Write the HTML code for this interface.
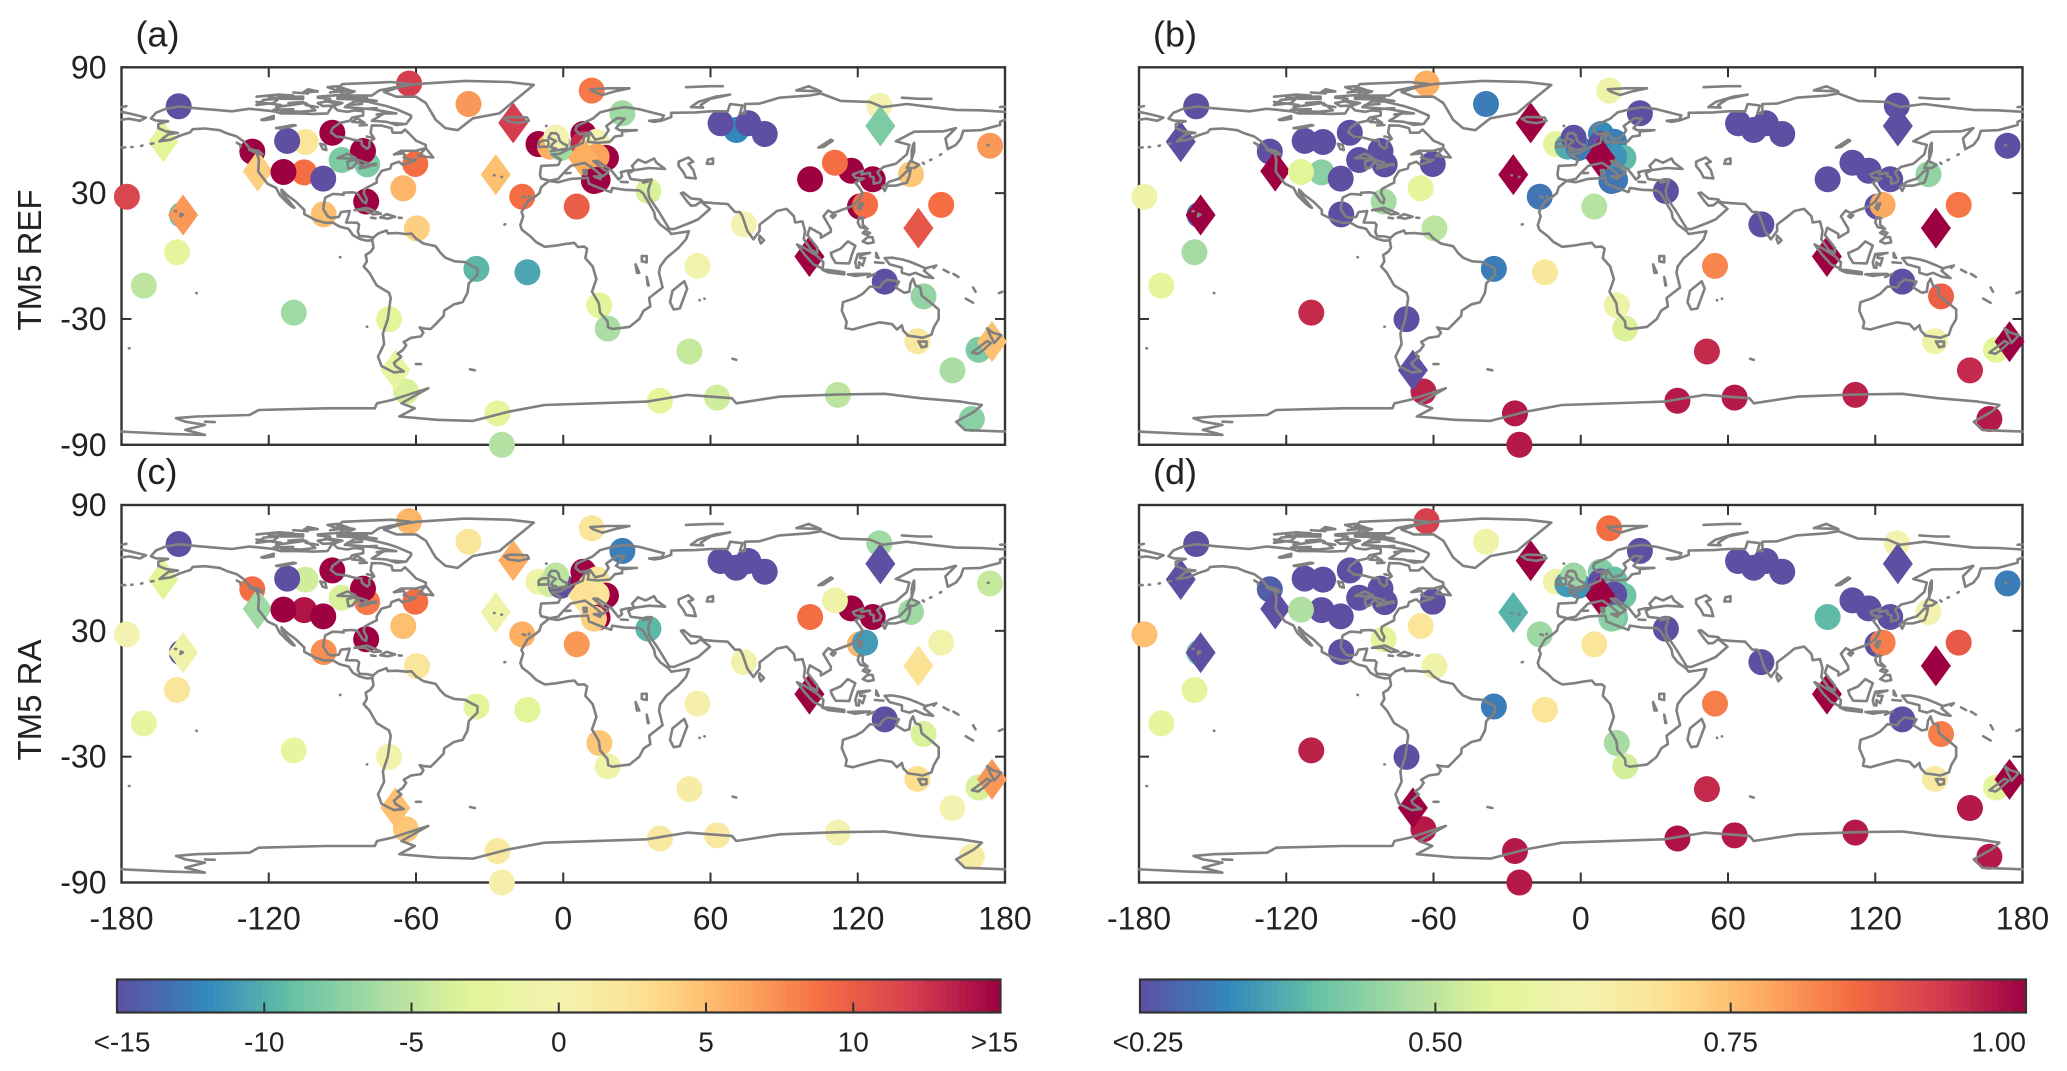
<!DOCTYPE html>
<html lang="en">
<head>
<meta charset="utf-8">
<title>TM5 station maps</title>
<style>
html,body{margin:0;padding:0;background:#fff;width:2067px;height:1071px;overflow:hidden}
svg{display:block}
text{font-family:"Liberation Sans",Arial,sans-serif;fill:#222}
</style>
</head>
<body>
<svg id="chart" xmlns="http://www.w3.org/2000/svg" width="2067" height="1071" viewBox="0 0 2067 1071"></svg>
<script>
// ---------- Data ----------
const xTickLabels = [-180, -120, -60, 0, 60, 120, 180];
const yTickLabels = [90, 30, -30, -90];
const biasTickLabels = ["<-15", "-10", "-5", "0", "5", "10", ">15"];
const biasTickValues = [-15, -10, -5, 0, 5, 10, 15];
const corrTickLabels = ["<0.25", "0.50", "0.75", "1.00"];
const corrTickValues = [0.25, 0.5, 0.75, 1];

const stationLon = [-62.8,-156.7,-38.6,-163,-20.4,11.6,24.1,70.5,64.1,75.4,82.1,-105,-112.5,-94.1,-126.7,-79.9,-90.3,-81.6,-60.3,-124.5,-105.6,-114,-97.8,-65.2,-80.3,-97.6,-59.6,-177.8,-155.4,-154.9,-157.4,-170.9,-27.5,-16.7,5.5,-10.1,-5.4,-0.9,-2.9,8.2,8.2,13.6,17.4,13.6,8,14,12.5,34.7,73.6,-35.4,-14.6,54.7,-109.8,-71,14.7,18.1,51.4,100.6,117.3,126.1,110.7,141.7,128.8,129.2,173.9,120.9,123,154,144.7,100.3,131,146.8,144.3,169.2,174.7,158.6,-64.1,-68.4,-26.8,-25,39.4,62.7,111.9,166.5];
const stationLat = [82.3,71.4,72.5,54.5,63.5,78.9,68.1,60.1,63.3,63.3,58.2,54.4,54.9,58.8,49.8,43.7,45.8,50.1,43.9,40.5,39.9,40.1,36.9,32.3,26,19.9,13.2,28.3,19.6,19.6,1.8,-14.1,38.8,28.3,23.6,53.4,52.2,51.5,56.4,58.2,53.5,54.5,46.8,47.4,46.8,36.3,35.8,31,15.1,-6.1,-7.7,-4.7,-27,-30.1,-23.5,-34.6,-45.5,36.6,40.7,36.6,44.5,39,71.7,62,52.6,23.6,24.4,24.4,13.3,-0.2,-12.2,-19.2,-40.6,-44.7,-40.8,-54.5,-64.6,-54.4,-75,-90,-69,-67.5,-66.2,-77.7];
const stationIsDiamond = [0,0,0,1,1,0,0,0,0,0,0,0,0,0,0,0,0,0,0,1,0,0,0,0,0,0,0,0,0,1,0,0,1,0,0,0,0,0,0,0,0,0,0,0,1,0,0,0,0,0,0,0,0,0,0,0,0,0,0,0,0,0,0,1,0,0,0,0,1,1,0,0,0,0,1,0,0,1,0,0,0,0,0,0];

const panelAValues = [12,-15,7,-3,12,8.5,-6.5,-12,-15,-15,-15,2,-15,15,15,-8,-8,15,9,4,9,15,-15,5.5,15,5,4,11.5,-9,7,-2.5,-5,5,9,10,15,6,-6.5,0,15,13,0,15,6.5,6,15,15,-3.5,0,-9.5,-10.5,-0.5,-6.5,-3,-3,-6,-4.5,15,15,15,9,4.5,0,-8,7,15,9,9,10.5,15,-15,-7,1.5,-8,5,-6,-3.5,-2,-2.5,-5.5,-2.5,-4,-5,-7.5];
const panelBValues = [0.775,0.25,0.31,0.25,1,0.6,0.25,0.25,0.25,0.25,0.25,0.25,0.25,0.25,0.25,0.25,0.25,0.25,0.25,1,0.44,0.55,0.25,0.56,0.47,0.25,0.5,0.6,0.28,1,0.47,0.56,1,0.3,0.49,0.57,0.37,0.31,0.25,0.33,0.25,0.31,0.39,0.34,1,0.31,0.3,0.25,0.25,0.31,0.67,0.82,0.95,0.25,0.6,0.54,0.95,0.25,0.25,0.25,0.25,0.45,0.25,0.25,0.25,0.25,0.78,0.84,1,1,0.25,0.87,0.6,0.55,1,0.95,0.96,0.25,0.97,0.97,0.97,0.97,0.96,0.97];
const panelCValues = [5.5,-15,2,-3,6,2,-12.5,-15,-15,-15,-15,-4,-15,15,9,8.5,-3.5,15,9,-6.5,14,15,15,5,15,7.5,2,0,-15,-1,2,-2,-1,6,7,-1,-4,-15,-5,15,15,2,15,2,2.5,15,4,-9.5,-0.5,-3,-3,0.5,-2,-0.5,4.5,-1,1,9,15,15,-1,-6.5,-6.5,-15,-4.5,5.5,-11,-0.5,2.5,15,-15,-3.5,3,-3.5,7,0,4.5,5,1.5,0.5,1.5,1.5,0,1];
const panelDValues = [0.92,0.25,0.6,0.25,1,0.85,0.25,0.25,0.25,0.25,0.25,0.25,0.25,0.25,0.27,0.25,0.25,0.25,0.25,0.25,0.25,0.48,0.25,0.68,0.56,0.25,0.6,0.75,0.42,0.25,0.57,0.56,0.38,0.46,0.68,0.6,0.35,0.34,0.46,0.43,0.25,0.4,0.41,0.25,1,0.42,0.44,0.25,0.25,0.31,0.68,0.83,0.96,0.25,0.47,0.53,0.95,0.39,0.25,0.25,0.25,0.62,0.62,0.25,0.31,0.25,0.83,0.88,1,1,0.25,0.83,0.66,0.56,1,0.97,0.97,1,0.97,0.97,0.98,0.97,0.97,0.97];

// Spectral colormap anchors
const spectralStops = ["#5e4fa2","#3288bd","#66c2a5","#abdda4","#e2f598","#f4f2b0","#fde08f","#fdae61","#f46d43","#d53e4f","#9e0142"];

// Coastlines as [lon,lat,lon,lat,...]
const coastlines = [
[-168,65.6,-166,68.3,-162,70.2,-156.5,71.3,-150,70.5,-141,69.6,-135,69,-128,70.2,-124,69.8,-118,69,-115,68,-108,68,-102,67.8,-96,68,-94,71.8,-92,69.5,-88,68.8,-85,69.5,-81.5,69,-81.5,67,-86,66,-87,64.5,-91,63.5,-94,61,-94.7,59,-92.5,57,-88,56.3,-85,55.3,-82.3,55,-82,52.9,-80,51.2,-79,52,-79,54.5,-77,56,-78.5,58.7,-78,62.3,-74,62.2,-70,61,-69.5,58.8,-66,58.8,-64.5,60.3,-62,57.5,-60,55,-56,53,-56,51.5,-60,50.2,-66,50.2,-69,48.4,-65,49,-64.5,48,-65,47,-62,45.8,-60,46,-61,45.2,-65.5,43.6,-67,45,-70,43.7,-70.5,41.7,-74,40.6,-75.5,38,-76,36.9,-76,35,-78,33.9,-81,32,-81.3,30,-80,27,-80.4,25.2,-81.7,26,-82.8,28,-84,30,-86,30.4,-89.5,30.2,-89.5,29.2,-91.5,29.5,-94,29.6,-97,27.8,-97.5,25,-97.8,22.5,-96,19,-94.5,18.2,-91.5,18.6,-90.5,21,-87,21.5,-87.7,18.5,-88.5,16,-84,15.9,-83.2,14.9,-83.7,11.5,-83,9.5,-79.8,9.3,-77.5,8.7],
[-77.8,7.5,-80,7.3,-83,8.2,-85.7,10,-87.5,13,-91,14,-94,16,-97,15.8,-101,17.2,-105.5,20,-105.5,22,-109,26,-112.5,29,-114.8,31.7,-114.7,30,-112,26.5,-109.5,23,-110.5,23.5,-112.5,25.5,-115.5,29,-117,32.5,-120.5,34.5,-122.5,37.5,-124.3,40.3,-124,46,-124.7,48.4,-122.5,48.5,-124,50,-127.5,51,-130,54.5,-133,57,-137,58.5,-140,60,-146,60.8,-151,60.5,-152,59,-156,57.5,-160,55.5,-164.5,54.7,-161,58,-157,58.7,-162,59.5,-165,61,-165,63,-161,64.3,-166,64.6,-168,65.6],
[-77.5,8.7,-75.5,10.7,-72,12.2,-71.5,10.8,-68,11,-64,10.5,-61.8,10.7,-60,8.3,-57,6,-52,4.7,-50,1.5,-48,-0.8,-44.3,-2.5,-40,-2.9,-37,-4.8,-35,-6,-35,-9,-38.5,-13,-39,-17.5,-41,-22,-44.5,-23,-48.5,-26,-48.7,-28.5,-52,-32.5,-54,-34.8,-57,-34.5,-58.5,-34,-57,-36.5,-58,-38.3,-62,-39,-65,-41,-64,-42.5,-65.5,-45,-67.5,-46.5,-66,-48,-69,-51,-68.3,-52.5,-65,-55,-69,-55.5,-74,-52.5,-75.5,-48,-73,-42,-73.5,-37,-71.5,-30,-70.3,-20,-71,-17.5,-76,-14,-79,-8,-81.3,-5,-80,-2.5,-80.5,0.5,-78.5,2,-77.3,4,-77.8,7.5,-77.5,8.7],
[-5.9,35.8,-2,35.2,3,36.8,10,37.3,10.5,34.5,15,32.3,19.5,30.5,20,32.5,25,31.6,31,31.3,32.5,30,34,27,35.5,24,37,21,37.5,18,39.5,15,43,12,44,10.5,51.2,11.8,50,8,47,4,42,-1,39.5,-5,39,-8,40.5,-15,35,-20,35.5,-24,32.8,-26,31,-30,27,-33.8,20,-34.8,18.3,-34,18,-31,15,-27,14.5,-22.5,11.7,-17,13.5,-11,12,-5,9,-1,9.7,3.5,8.5,4.5,6,4.3,4.5,6.3,1,5.8,-3,5,-7.5,4.4,-11,6.6,-13.5,9.5,-16.8,12.5,-17.5,14.7,-16.3,19,-17,21,-14.5,26,-11,28.8,-9.7,30,-9,32.8,-5.9,35.8],
[-9,37,-9.5,38.8,-9,43,-2,43.4,-1,46,-4.7,48.5,-1.5,48.7,1.5,50.5,4,52,8,54,8.5,57,10.5,57.7,10,54.5,14,54,19,54.5,21,57,24,57.5,24,59.4,30,60,23,60,21.5,61,25,65.5,22,65.8,17.5,62,18.5,60,16.5,56.5,13,55.5,11,59,7,58,5,60,5.5,62,12,65.5,15,68.5,20,70,25,71,31,70,41,67,40,65,35,64.5,37,64,40,64.6,44,66.2,44,68.3,54,68.5,60,69,67,69,68,72.5,73,71.8,72,68,74,68,74,72.5,80,72.7,88,75.5,100,76.5,105,77.5,113,74,125,73.5,130,71,140,72.5,150,71,160,69.7,170,69.5,180,68.8],
[-180,68.8,-175,67.5,-170,66,-172.5,64.5,-177,65.5,-180,65],
[180,65,178,64,178,62.5,170,60,163,59.7,162,56,160,53,156.7,51,155.7,56,160,61,155,59.5,143,59.3,135.5,54.7,141,53,140,48.5,135.5,44,130.5,42.5,128,40,129.5,37,129,35.2,126.5,34.5,126.5,37.5,125,38,125,39.7,121.5,39,122,40.7,118,39,119,37.3,122.5,37,119,35,121,32,122,30,120,26,117,23.5,113.5,22,110,20.5,108,21.7,106,19,109,13,109,11.5,105,8.7,105,10.5,100.5,13.5,99.5,10,103.5,4,103.5,1.5,101,3,98,8,98.5,12,97.5,16.5,94.5,16,94,19,91,22.5,87,21.5,85,19.5,80,15,80,12,77.5,8,75,12,73,19,72,21,70,21,67,24.8,61.5,25.2,57,25.7,56,27,52,27.5,49,30.3,48,30,50.5,26,52,24,54,24.2,56,26,59.8,22.5,55,17.5,52,16,45,12.8,43.2,13,39,21,35,28,34.6,31.5,36,36.5,32.5,36,27.5,36.7,26.5,39.5,29,41,35,42,41.5,41.5,38,44.5,37,46.5,33.5,44.5,30.5,46,28,43,29,41,26,40.7,23.5,40,24,38,22.5,36.5,19.5,41,14,45.3,12.3,45.3,16,41.7,18.4,40,16,38,12.5,41.5,8.8,44.4,3,43,0,39.5,-2,36.8,-5.5,36,-9,37],
[47,45,51,47,53,45,51,44,53,41,54,37,50,37.5,49,40,47,43,47,45],
[59,46,61,46.5,61,44,58.5,44,59,46],
[104,51.7,109,55.5,109.8,55,106,52,104,51.7],
[-92,46.7,-88,48.8,-84.7,47,-87,46.5,-92,46.7],
[-87.5,41.7,-88,45,-85,46,-84,46,-80,44.5,-82,43,-84,45,-86,42,-87.5,41.7],
[-83,41.7,-79,42.8,-79.5,43.5,-76.3,44,-76.3,43.3,-79,43.2,-80,42.6,-83,42.2],
[-99,53.5,-97,53,-96.5,50.5,-98,51,-99,53.5],
[-117,61,-110,62.5,-109,62.3,-115,60.8,-117,61],
[-123,65,-118,66.8,-118,65.5,-122,64.8,-123,65],
[32,0,34,0,34,-3,32,-2.5,32,0],
[29.5,-4,30,-8,31,-8,29.5,-4],
[34,-10,34.8,-14,34.5,-14,34,-10],
[-5,50,1.3,51.2,1.5,52.8,0,53.5,-1.5,55,-2,57.5,-3,58.6,-5,58.6,-6,56.5,-3,54.8,-4.5,53.3,-5,51.8,-3,51.3,-5,50],
[-6,52.2,-6,54,-6.2,55.2,-8.5,55,-10,54,-10,52,-6,52.2],
[-24,65.5,-22,64,-18,63.4,-14,64.5,-14.7,66,-18,66.2,-22,66.3,-24,65.5],
[-73,78.2,-66,80.8,-60,82,-40,83.5,-22,83,-12,81.6,-20,74,-24,70,-26,68,-36.8,65.7,-43,60,-48,61,-52,65,-54,69,-56,73,-60,76,-68,76,-73,78.2],
[12,78.5,16,76.8,21,78.5,27,80,18,80,11,79.5,12,78.5],
[52,71,55,73.5,62,76,68,77,60,75,56,72,57,70.8,52,71],
[142,46,143,50,143,54,142.5,53,142,50,142,46],
[130,33,131,31,132,33.5,135.5,33.6,140,35,141,38,141.5,41,140,40.5,137,37,133,35.5,130,33],
[140,42,141.5,45.4,145,43.5,143,42,140,42],
[120,23,121,25,122,25,121,22,120,23],
[109,19,110,20,111,19.5,110,18.2,109,19],
[120,16,120.5,18.5,122,18.3,122,15,124,13,121,13.8,120,16],
[122,7,124,9,126,9,126.5,6.5,124,6,122,7],
[122,11,123,12,125,11,124,10,122,11],
[109,1.5,111,2.5,113,3.5,116,7,119,5,117.7,1,116.5,-3.5,111,-3.3,109.5,-0.5,109,1.5],
[95.3,5.5,98,4,103.5,0,106,-3,105.7,-6,102,-4,98.5,0.5,95.3,5.5],
[105.5,-6.5,108.5,-6.7,114.5,-7.7,114.5,-8.7,108,-7.8,105.5,-6.5],
[119.5,-5.5,119,-3,120,1,125,1.5,121,0.3,121,-1,123,-1,122,-4.5,120.5,-3,120.5,-5.6,119.5,-5.5],
[116,-8.7,120,-8.5,125,-8.5,119,-9.5,116,-8.7],
[124,-10,127,-8.5],
[127.5,1.5,128.5,-1,127.5,-0.5,127.5,1.5],
[127,-3,130.5,-3.3],
[131,-1,134,-0.8,138,-1.6,141,-2.6,145,-4.5,147.8,-6,147,-7,150.7,-10.5,147,-9.8,143.5,-8,141,-9,138,-8,138,-5.5,133,-4,132,-2.5,131,-1],
[148,-5.7,152,-4.5,151,-5.7],
[155,-6.5,157,-7.8],
[159,-8.5,161,-10],
[114,-22,113.5,-26,115.5,-31.5,115,-34.3,118,-35,124,-33,129,-31.6,134,-32.5,136,-35,138,-33,138.5,-35.5,140.5,-38,144,-38.5,146.5,-39,150,-37.5,151,-34,153,-30,153,-25.5,149.5,-22,146,-18.8,145.5,-15,143.5,-14,142.5,-10.8,141.5,-13,141,-17,139,-17.5,135.5,-15,136.8,-12.2,132,-11.3,130,-13,129,-15,125,-14.5,122,-18,119,-20,114,-22],
[144.7,-40.7,148,-40.8,148,-43,146,-43.5,144.7,-40.7],
[172.7,-34.5,175,-36.5,178.5,-37.7,175.5,-41.5,174.8,-39.5,174,-38,172.7,-34.5],
[172.7,-40.5,174.2,-41.5,171,-45,169,-46.6,166.5,-46,170,-43,172.7,-40.5],
[49.3,-12,50.5,-15.5,47.5,-25,45,-25.5,43.5,-22,44.5,-16.5,49.3,-12],
[80,9.7,81.8,7.5,80.5,6,79.8,8,80,9.7],
[-85,21.9,-80,23,-74.3,20.2,-77.5,19.9,-81,22,-85,21.9],
[-74.5,18.4,-72,20,-68.5,18.7,-71.5,17.8,-74.5,18.4],
[-78.3,18.3,-76.5,18],
[-67,18.3,-65.8,18.2],
[-59,47.7,-56,51.5,-53,47,-59,47.7],
[-128,50.7,-124,48.5,-123.5,48.4,-125,50,-128,50.7],
[-133,54,-131.5,53,-131.5,52],
[-156,19,-155,19.7,-155.8,20.2,-156,19],
[-158.2,21.4,-157.7,21.4],
[8.5,39,9.5,39,9.5,41,8.2,41,8.5,39],
[12.5,38,15.5,38,15,36.7,12.5,38],
[23.5,35.4,26.3,35.2],
[32.5,35,34.5,35.5],
[1,39.5,3,39.6],
[55.5,-21,55.6,-21.1],
[57.5,-20.3,57.6,-20.4],
[-60,-51.5,-58,-51.5],
[-38,-54,-36,-54.5],
[69,-49,70.5,-49.5],
[164,-20.3,167,-22.3],
[167,-15,168,-17],
[177.5,-17.7,179,-17],
[-177,-44,-176.7,-44],
[-149.5,-17.6,-149.3,-17.7],
[-91,-0.5,-90.8,-0.6],
[-80,-33.7,-79.9,-33.7],
[-25,37.7,-25.2,37.8],
[-28,38.5,-28.2,38.5],
[-16.5,28.3,-16.2,28.4],
[-15.5,28,-15.4,27.9],
[-14,28.4,-13.8,28.6],
[-24,15,-23.6,15.2],
[-7,62,-6.8,62.1],
[-176,52,-175.5,52],
[-172,52.5,-171.5,52.7],
[-168,53.5,-167,53.7],
[-180,51.8,-178.5,51.8],
[173,52.9,173.3,52.9],
[147,44,146.5,44.5],
[150,46,149.5,45.8],
[154,48.5,153.5,48.2],
[-62,66,-64,63,-68,62.5,-72,64,-78,64.5,-73,68,-68,68,-78,70,-89,71,-85,73.8,-80,73.7,-72,71.5,-68,70,-62,67,-62,66],
[-117,71,-105,73,-101,69.5,-107,68.8,-115,69.3,-117,71],
[-125,72,-118,73,-116,75,-122,74.5,-125,72],
[-90,76.5,-78,76.5,-75,79,-62,82,-70,83,-90,82,-92,80,-85,78.5,-90,76.5],
[-92,75,-80,74.5,-80,75.7,-92,76,-92,75],
[-115,75,-106,75,-106,76,-116,76.3,-115,75],
[-96,80.5,-92,81,-87,79,-90,78,-96,80.5],
[-106,78,-100,78.5,-104,79.5,-106,78],
[-100,73,-95,74,-90,73,-93,71.8,-98,71.5,-100,73],
[-86,64,-81,63.5,-84,65.8,-86,64],
[-80,62.5,-83,62.3],
[-76,67.5,-73,68],
[-98,76,-100,75.5,-95,75],
[-125,76,-116,77,-110,76.5],
[-120,75.5,-112,75.3],
[-110,78,-104,77.5],
[-100,76,-94,76.5,-90,77],
[-105,72,-100,71],
[-97,74,-92,72.5],
[-88,72,-82,72.5],
[-84,70,-76,70.5],
[-82,75,-76,74],
[-112,73,-106,73.5],
[-125,73.5,-115,72],
[-95,78,-88,79],
[-118,69.8,-110,70],
[-65,63,-70,63.5],
[-80,57,-78,56.5],
[95,79,105,78.5,100,81,95,79],
[138,75.5,145,75,150,75],
[-180,71,-178,71.5],
[178,71,180,71.2],
[50,80.5,60,81,65,81],
[-180,-83.7,-160.5,-84.8,-146,-85.3,-154,-82.9,-146,-80.5,-154,-79,-157.8,-77.3,-149.6,-76.5,-127.8,-75.8,-124.1,-73.4,-96.9,-72.6,-76.8,-72.6,-75.9,-70.2,-69.6,-68.6,-55,-63,-65.9,-70.2,-60.5,-72.6,-66.8,-76.5,-51.4,-78.1,-36.8,-78.6,-22.3,-74.2,-7.7,-71,34,-69.4,50.5,-66.2,68.7,-67.8,70.5,-70.2,88.3,-67,112,-66,131,-65.7,145.5,-67.8,161.9,-69.4,170.6,-71,167.4,-74.2,160.1,-79,163.7,-83,180,-83.7],
[-146,-79,-142,-79.2]
];

// ---------- Helpers ----------
const NS = "http://www.w3.org/2000/svg";
const svg = document.getElementById("chart");
const AXIS_COLOR = "#333333";

function el(tag, attrs, parent, text) {
  const node = document.createElementNS(NS, tag);
  for (const k in attrs) node.setAttribute(k, attrs[k]);
  if (text !== undefined) node.textContent = text;
  (parent || svg).appendChild(node);
  return node;
}
function hexToRgb(h) {
  return [parseInt(h.slice(1,3),16), parseInt(h.slice(3,5),16), parseInt(h.slice(5,7),16)];
}
function spectral(t) {
  const c = Math.max(0, Math.min(1, t)) * (spectralStops.length - 1);
  const i = Math.min(Math.floor(c), spectralStops.length - 2);
  const f = c - i;
  const a = hexToRgb(spectralStops[i]);
  const b = hexToRgb(spectralStops[i + 1]);
  return "rgb(" + a.map((v, k) => Math.round(v + (b[k] - v) * f)).join(",") + ")";
}
const biasNorm = v => (v + 15) / 30;
const corrNorm = v => (v - 0.25) / 0.75;

function drawPanel(cfg) {
  const x = lon => cfg.x + (lon + 180) / 360 * cfg.w;
  const y = lat => cfg.y + (90 - lat) / 180 * cfg.h;

  const g = el("g", {});
  
  

  const frame = el("rect", {x: cfg.x, y: cfg.y, width: cfg.w, height: cfg.h, fill: "#fff", stroke: AXIS_COLOR, "stroke-width": 2.4}, g);
  
  

  xTickLabels.slice(1, -1).forEach(t => {
    [[cfg.y, cfg.y + 10], [cfg.y + cfg.h, cfg.y + cfg.h - 10]].forEach(p => {
      const tk = el("line", {x1: x(t), x2: x(t), y1: p[0], y2: p[1], stroke: AXIS_COLOR, "stroke-width": 2}, g);
      
      
    });
  });
  yTickLabels.slice(1, -1).forEach(t => {
    [[cfg.x, cfg.x + 10], [cfg.x + cfg.w, cfg.x + cfg.w - 10]].forEach(p => {
      const tk = el("line", {x1: p[0], x2: p[1], y1: y(t), y2: y(t), stroke: AXIS_COLOR, "stroke-width": 2}, g);
      
      
    });
  });

  if (cfg.showY) {
    yTickLabels.forEach(t => {
      const lb = el("text", {x: cfg.x - 15, y: y(t) + 11, "text-anchor": "end", "font-size": 32}, g, String(t));
      
      
    });
  }
  if (cfg.showX) {
    xTickLabels.forEach(t => {
      const lb = el("text", {x: x(t), y: cfg.y + cfg.h + 47, "text-anchor": "middle", "font-size": 32}, g, String(t));
      
      
    });
  }

  stationLon.forEach((lon, i) => {
    const px = x(lon), py = y(stationLat[i]);
    const fill = spectral(cfg.norm(cfg.values[i]));
    let m;
    if (stationIsDiamond[i]) {
      const hw = 15, hh = 20.5;
      m = el("polygon", {points: [px, py - hh, px + hw, py, px, py + hh, px - hw, py].join(" "), fill: fill}, g);
      
    } else {
      m = el("circle", {cx: px, cy: py, r: 13, fill: fill}, g);
      
    }
    
  });

  const d = coastlines.map(line => {
    let s = "";
    for (let i = 0; i < line.length; i += 2) {
      s += (i ? "L" : "M") + x(line[i]).toFixed(1) + " " + y(line[i + 1]).toFixed(1);
    }
    return s;
  }).join("");
  const coast = el("path", {d: d, fill: "none", stroke: "#808080", "stroke-width": 2.6, "stroke-linejoin": "round", "stroke-linecap": "round"}, g);
  
  

  const title = el("text", {x: cfg.x + 14, y: cfg.y - 21, "font-size": 36, fill: "#111"}, g, cfg.letter);
  
  
}

function drawColorbar(cfg) {
  const g = el("g", {});
  
  
  const n = 128;
  for (let i = 0; i < n; i++) {
    const seg = el("rect", {x: cfg.x + i * cfg.w / n, y: cfg.y, width: cfg.w / n + 0.6, height: cfg.h, fill: spectral((i + 0.5) / n)}, g);
    
    
  }
  const border = el("rect", {x: cfg.x, y: cfg.y, width: cfg.w, height: cfg.h, fill: "none", stroke: AXIS_COLOR, "stroke-width": 2.2}, g);
  
  
  cfg.values.forEach((v, i) => {
    const px = cfg.x + cfg.norm(v) * cfg.w;
    if (i > 0 && i < cfg.values.length - 1) {
      const tk = el("line", {x1: px, x2: px, y1: cfg.y + cfg.h, y2: cfg.y + cfg.h - 10, stroke: AXIS_COLOR, "stroke-width": 2}, g);
      
      
    }
    let anchor = "middle", lx = px;
    if (i === 0) { lx = px + (cfg.endAlign ? 8 : 5); }
    if (i === cfg.values.length - 1) {
      if (cfg.endAlign) { anchor = "end"; lx = cfg.x + cfg.w; } else { lx = px - 6; }
    }
    const lb = el("text", {x: lx, y: cfg.y + cfg.h + 39, "text-anchor": anchor, "font-size": 28}, g, cfg.labels[i]);
    
    
  });
}

// ---------- Layout ----------
const PW = 883.5, PH = 377.5;
drawPanel({name: "panel-a-tm5-ref-bias", letter: "(a)", x: 121.5, y: 67.3, w: PW, h: PH, values: panelAValues, norm: biasNorm, showY: true, showX: false});
drawPanel({name: "panel-b-tm5-ref-correlation", letter: "(b)", x: 1139, y: 67.3, w: PW, h: PH, values: panelBValues, norm: corrNorm, showY: false, showX: false});
drawPanel({name: "panel-c-tm5-ra-bias", letter: "(c)", x: 121.5, y: 505, w: PW, h: PH, values: panelCValues, norm: biasNorm, showY: true, showX: true});
drawPanel({name: "panel-d-tm5-ra-correlation", letter: "(d)", x: 1139, y: 505, w: PW, h: PH, values: panelDValues, norm: corrNorm, showY: false, showX: true});

drawColorbar({name: "colorbar-bias", x: 117, y: 979.5, w: 883.5, h: 33, values: biasTickValues, labels: biasTickLabels, norm: biasNorm, endAlign: false});
drawColorbar({name: "colorbar-correlation", x: 1140, y: 979.5, w: 886, h: 33, values: corrTickValues, labels: corrTickLabels, norm: corrNorm, endAlign: true});

const refLabel = el("text", {transform: "translate(41,260) rotate(-90)", "text-anchor": "middle", "font-size": 33}, svg, "TM5 REF");


const raLabel = el("text", {transform: "translate(41,700) rotate(-90)", "text-anchor": "middle", "font-size": 33}, svg, "TM5 RA");


</script>
</body>
</html>
